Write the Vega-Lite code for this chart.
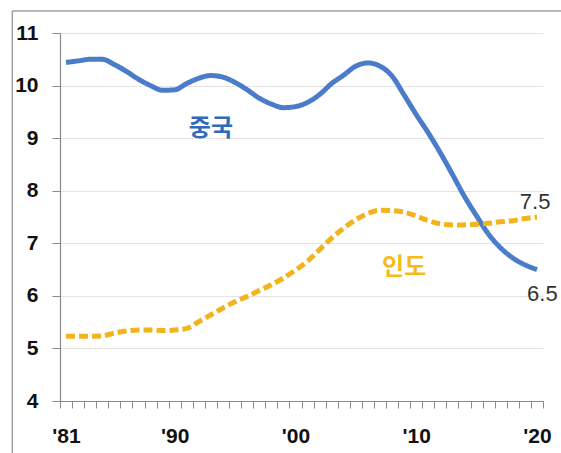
{
  "$schema": "https://vega.github.io/schema/vega-lite/v6.json",
  "width": 483,
  "height": 368,
  "autosize": "none",
  "padding": {"left": 60, "top": 33, "right": 18, "bottom": 52},
  "background": "white",
  "config": {
    "view": {"stroke": null},
    "font": "Liberation Sans, Arial, sans-serif"
  },
  "datasets": {
    "series": [
      {"year": 1981, "country": "중국", "value": 10.44},
      {"year": 1982, "country": "중국", "value": 10.47},
      {"year": 1983, "country": "중국", "value": 10.5},
      {"year": 1984, "country": "중국", "value": 10.5},
      {"year": 1985, "country": "중국", "value": 10.4},
      {"year": 1986, "country": "중국", "value": 10.27},
      {"year": 1987, "country": "중국", "value": 10.12},
      {"year": 1988, "country": "중국", "value": 10.0},
      {"year": 1989, "country": "중국", "value": 9.91},
      {"year": 1990, "country": "중국", "value": 9.92},
      {"year": 1991, "country": "중국", "value": 10.04},
      {"year": 1992, "country": "중국", "value": 10.14},
      {"year": 1993, "country": "중국", "value": 10.19},
      {"year": 1994, "country": "중국", "value": 10.16},
      {"year": 1995, "country": "중국", "value": 10.06},
      {"year": 1996, "country": "중국", "value": 9.92},
      {"year": 1997, "country": "중국", "value": 9.76},
      {"year": 1998, "country": "중국", "value": 9.65},
      {"year": 1999, "country": "중국", "value": 9.58},
      {"year": 2000, "country": "중국", "value": 9.6},
      {"year": 2001, "country": "중국", "value": 9.68},
      {"year": 2002, "country": "중국", "value": 9.83},
      {"year": 2003, "country": "중국", "value": 10.04},
      {"year": 2004, "country": "중국", "value": 10.2},
      {"year": 2005, "country": "중국", "value": 10.37},
      {"year": 2006, "country": "중국", "value": 10.43},
      {"year": 2007, "country": "중국", "value": 10.37},
      {"year": 2008, "country": "중국", "value": 10.18},
      {"year": 2009, "country": "중국", "value": 9.82},
      {"year": 2010, "country": "중국", "value": 9.45},
      {"year": 2011, "country": "중국", "value": 9.1},
      {"year": 2012, "country": "중국", "value": 8.72},
      {"year": 2013, "country": "중국", "value": 8.31},
      {"year": 2014, "country": "중국", "value": 7.89},
      {"year": 2015, "country": "중국", "value": 7.52},
      {"year": 2016, "country": "중국", "value": 7.17},
      {"year": 2017, "country": "중국", "value": 6.91},
      {"year": 2018, "country": "중국", "value": 6.72},
      {"year": 2019, "country": "중국", "value": 6.59},
      {"year": 2020, "country": "중국", "value": 6.5},
      {"year": 1981, "country": "인도", "value": 5.23},
      {"year": 1982, "country": "인도", "value": 5.23},
      {"year": 1983, "country": "인도", "value": 5.23},
      {"year": 1984, "country": "인도", "value": 5.24},
      {"year": 1985, "country": "인도", "value": 5.29},
      {"year": 1986, "country": "인도", "value": 5.33},
      {"year": 1987, "country": "인도", "value": 5.35},
      {"year": 1988, "country": "인도", "value": 5.35},
      {"year": 1989, "country": "인도", "value": 5.34},
      {"year": 1990, "country": "인도", "value": 5.35},
      {"year": 1991, "country": "인도", "value": 5.38},
      {"year": 1992, "country": "인도", "value": 5.51},
      {"year": 1993, "country": "인도", "value": 5.64},
      {"year": 1994, "country": "인도", "value": 5.77},
      {"year": 1995, "country": "인도", "value": 5.89},
      {"year": 1996, "country": "인도", "value": 5.99},
      {"year": 1997, "country": "인도", "value": 6.1},
      {"year": 1998, "country": "인도", "value": 6.21},
      {"year": 1999, "country": "인도", "value": 6.34},
      {"year": 2000, "country": "인도", "value": 6.49},
      {"year": 2001, "country": "인도", "value": 6.66},
      {"year": 2002, "country": "인도", "value": 6.88},
      {"year": 2003, "country": "인도", "value": 7.1},
      {"year": 2004, "country": "인도", "value": 7.29},
      {"year": 2005, "country": "인도", "value": 7.45},
      {"year": 2006, "country": "인도", "value": 7.57},
      {"year": 2007, "country": "인도", "value": 7.63},
      {"year": 2008, "country": "인도", "value": 7.62},
      {"year": 2009, "country": "인도", "value": 7.59},
      {"year": 2010, "country": "인도", "value": 7.52},
      {"year": 2011, "country": "인도", "value": 7.43},
      {"year": 2012, "country": "인도", "value": 7.37},
      {"year": 2013, "country": "인도", "value": 7.35},
      {"year": 2014, "country": "인도", "value": 7.35},
      {"year": 2015, "country": "인도", "value": 7.36},
      {"year": 2016, "country": "인도", "value": 7.38},
      {"year": 2017, "country": "인도", "value": 7.41},
      {"year": 2018, "country": "인도", "value": 7.43},
      {"year": 2019, "country": "인도", "value": 7.47},
      {"year": 2020, "country": "인도", "value": 7.5}
    ],
    "names": [
      {"year": 1993.0, "value": 9.17, "country": "중국 표시", "text": "중국"},
      {"year": 2009.0, "value": 6.53, "country": "인도 표시", "text": "인도"}
    ],
    "ends": [
      {"year": 2019.85, "value": 7.79, "country": "num", "text": "7.5"},
      {"year": 2020.45, "value": 6.04, "country": "num", "text": "6.5"}
    ],
    "frame": [{"id": 1}]
  },
  "resolve": {"axis": {"x": "independent"}},
  "layer": [
    {
      "data": {"name": "frame"},
      "mark": {"type": "rule", "color": "#a0a0a0", "strokeWidth": 1.5, "clip": false},
      "encoding": {
        "x": {"datum": 1976.55, "type": "quantitative", "axis": null},
        "y": {"datum": 11.42, "type": "quantitative"},
        "y2": {"datum": 2.9}
      }
    },
    {
      "data": {"name": "frame"},
      "mark": {"type": "rule", "color": "#a0a0a0", "strokeWidth": 1.5, "clip": false},
      "encoding": {
        "x": {"datum": 1976.55, "type": "quantitative", "axis": null},
        "x2": {"datum": 2022.3},
        "y": {"datum": 11.42, "type": "quantitative"}
      }
    },
    {
      "data": {"name": "series"},
      "mark": {"type": "line", "strokeWidth": 5, "interpolate": "monotone", "strokeCap": "butt"},
      "encoding": {
        "x": {
          "field": "year", "type": "quantitative",
          "scale": {"domain": [1980.5, 2020.5], "nice": false, "zero": false},
          "axis": {
            "orient": "bottom",
            "title": null,
            "grid": false,
            "labels": false,
            "values": [1980.5, 1981.5, 1982.5, 1983.5, 1984.5, 1985.5, 1986.5, 1987.5, 1988.5, 1989.5, 1990.5, 1991.5, 1992.5, 1993.5, 1994.5, 1995.5, 1996.5, 1997.5, 1998.5, 1999.5, 2000.5, 2001.5, 2002.5, 2003.5, 2004.5, 2005.5, 2006.5, 2007.5, 2008.5, 2009.5, 2010.5, 2011.5, 2012.5, 2013.5, 2014.5, 2015.5, 2016.5, 2017.5, 2018.5, 2019.5, 2020.5],
            "tickSize": 7,
            "tickColor": "#8a8a8a",
            "domainColor": "#8a8a8a",
            "domainWidth": 1.2
          }
        },
        "y": {
          "field": "value", "type": "quantitative",
          "scale": {"domain": [4, 11], "nice": false, "zero": false},
          "axis": {
            "title": null,
            "values": [4, 5, 6, 7, 8, 9, 10, 11],
            "format": "d",
            "grid": true,
            "gridColor": "#e3e3e3",
            "gridWidth": 1.2,
            "tickSize": 8,
            "tickColor": "#8a8a8a",
            "domainColor": "#8a8a8a",
            "domainWidth": 1.2,
            "labelFontSize": 21,
            "labelFontWeight": "bold",
            "labelColor": "#111111",
            "labelPadding": 14
          }
        },
        "color": {
          "field": "country", "type": "nominal",
          "scale": {"domain": ["중국", "인도", "num", "중국 표시", "인도 표시"], "range": ["#4A7CC9", "#F2B41C", "#333333", "#2F6BB8", "#F4BC1A"]},
          "legend": null
        },
        "strokeDash": {
          "field": "country", "type": "nominal",
          "scale": {"domain": ["중국", "인도"], "range": [[1, 0], [9, 4]]},
          "legend": null
        }
      }
    },
    {
      "data": {"name": "names"},
      "mark": {"type": "text", "fontSize": 24, "font": "Noto Sans CJK KR", "fontWeight": "bold", "align": "center", "baseline": "middle"},
      "encoding": {
        "x": {
          "field": "year", "type": "quantitative",
          "axis": {
            "orient": "bottom",
            "title": null,
            "grid": false,
            "ticks": false,
            "domain": false,
            "values": [1981, 1990, 2000, 2010, 2020],
            "labelExpr": "\"'\" + slice(toString(datum.value), 2)",
            "labelFontSize": 21,
            "labelFontWeight": "bold",
            "labelColor": "#111111",
            "labelPadding": 24
          }
        },
        "y": {"field": "value", "type": "quantitative"},
        "color": {"field": "country", "type": "nominal", "legend": null},
        "text": {"field": "text"}
      }
    },
    {
      "data": {"name": "ends"},
      "mark": {"type": "text", "fontSize": 22, "align": "center", "baseline": "middle"},
      "encoding": {
        "x": {"field": "year", "type": "quantitative", "axis": null},
        "y": {"field": "value", "type": "quantitative"},
        "color": {"field": "country", "type": "nominal", "legend": null},
        "text": {"field": "text"}
      }
    }
  ]
}
